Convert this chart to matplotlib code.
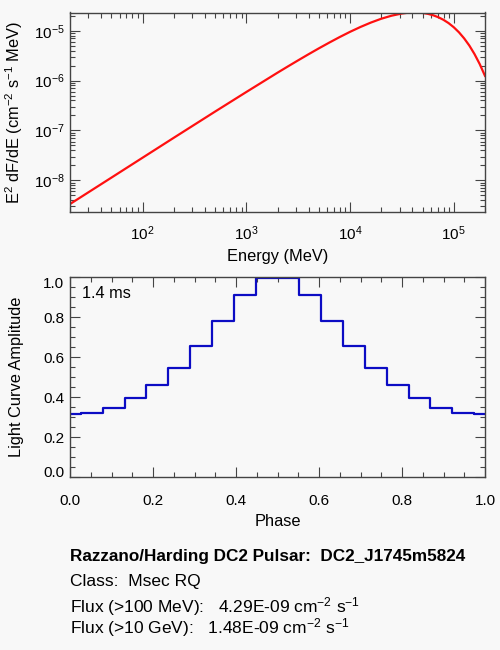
import matplotlib
matplotlib.use("Agg")
import matplotlib.pyplot as plt
import numpy as np
from matplotlib.ticker import LogLocator, MultipleLocator, NullFormatter, FormatStrFormatter

plt.rcParams['font.family'] = ['Liberation Sans', 'DejaVu Sans']
plt.rcParams['mathtext.fontset'] = 'custom'
plt.rcParams['mathtext.rm'] = 'Liberation Sans'
plt.rcParams['mathtext.it'] = 'Liberation Sans'
plt.rcParams['mathtext.bf'] = 'Liberation Sans:bold'
plt.rcParams['mathtext.default'] = 'regular'

# ---- Spectrum (E^2 dF/dE) ----
energy_mev = [20, 50, 100, 200, 500, 1000, 2000, 2512, 3162, 3981, 5012, 6310, 7943,
              1.0e4, 1.259e4, 1.585e4, 1.995e4, 2.512e4, 3.162e4, 3.548e4, 3.981e4,
              4.467e4, 5.012e4, 5.623e4, 6.310e4, 7.079e4, 7.943e4, 8.913e4, 1.0e5,
              1.122e5, 1.259e5, 1.413e5, 1.585e5, 1.778e5, 2.0e5]
e2dfde = [3.35e-9, 1.13e-8, 2.84e-8, 7.13e-8, 2.39e-7, 5.90e-7, 1.44e-6, 1.917e-6,
          2.549e-6, 3.375e-6, 4.437e-6, 5.78e-6, 7.46e-6, 9.50e-6, 1.188e-5, 1.455e-5,
          1.736e-5, 2.001e-5, 2.214e-5, 2.284e-5, 2.319e-5, 2.318e-5, 2.273e-5,
          2.183e-5, 2.047e-5, 1.870e-5, 1.658e-5, 1.422e-5, 1.174e-5, 9.30e-6,
          7.025e-6, 5.04e-6, 3.399e-6, 2.148e-6, 1.243e-6]

# ---- Light curve ----
phase = [0.0, 0.0526, 0.1053, 0.1579, 0.2105, 0.2632, 0.3158, 0.3684, 0.4211, 0.4737,
         0.5263, 0.5789, 0.6316, 0.6842, 0.7368, 0.7895, 0.8421, 0.8947, 0.9474, 1.0]
amplitude = [0.315, 0.320, 0.345, 0.398, 0.460, 0.547, 0.655, 0.782, 0.912, 0.995,
             0.995, 0.912, 0.782, 0.655, 0.547, 0.460, 0.398, 0.345, 0.320, 0.315]

period_label = "1.4 ms"
info_lines = [
    "Razzano/Harding DC2 Pulsar:  DC2_J1745m5824",
    "Class:  Msec RQ",
    "Flux (>100 MeV):   4.29E-09 cm$^{-2}$ s$^{-1}$",
    "Flux (>10 GeV):   1.48E-09 cm$^{-2}$ s$^{-1}$",
]

BG = '#f8f8f8'
SPINE = '#444444'
LABEL_FS = 11.8
TICK_FS = 11
W, H = 500, 650
fig = plt.figure(figsize=(5, 6.5), dpi=100, facecolor=BG)

def ax_rect(l, t, r, b):
    return [l / W, 1 - b / H, (r - l) / W, (b - t) / H]

ax1 = fig.add_axes(ax_rect(70, 12.5, 485, 212), facecolor=BG)
ax2 = fig.add_axes(ax_rect(70, 277.3, 485, 477.3), facecolor=BG)

for ax in (ax1, ax2):
    for s in ax.spines.values():
        s.set_color(SPINE)
        s.set_linewidth(1.0)
    ax.tick_params(which='both', direction='in', top=True, right=True,
                   color=SPINE, labelsize=TICK_FS, labelcolor='black')
    ax.tick_params(which='major', length=7, width=0.8)
    ax.tick_params(which='minor', length=3.5, width=0.8)
    ax.tick_params(axis='y', pad=4)
ax1.tick_params(axis='x', pad=9)
ax2.tick_params(axis='x', pad=12)

# Top panel
ax1.plot(energy_mev, e2dfde, color='#ff1010', lw=1.6)
ax1.set_xscale('log')
ax1.set_yscale('log')
ax1.set_xlim(20, 2.0e5)
ax1.set_ylim(2.32e-9, 2.32e-5)
ax1.xaxis.set_major_locator(LogLocator(base=10, numticks=10))
ax1.xaxis.set_minor_locator(LogLocator(base=10, subs=np.arange(2, 10), numticks=20))
ax1.xaxis.set_minor_formatter(NullFormatter())
ax1.yaxis.set_major_locator(LogLocator(base=10, numticks=10))
ax1.yaxis.set_minor_locator(LogLocator(base=10, subs=np.arange(2, 10), numticks=20))
ax1.yaxis.set_minor_formatter(NullFormatter())
ax1.set_xlabel('Energy (MeV)', fontsize=LABEL_FS, va='center')
ax1.xaxis.set_label_coords(0.5, (212 - 257) / 199.5)
ax1.set_ylabel('E$^2$ dF/dE (cm$^{-2}$ s$^{-1}$ MeV)', fontsize=LABEL_FS, va='center')
ax1.yaxis.set_label_coords((14 - 70) / 415, 0.5)

# Bottom panel
ax2.step(phase, amplitude, where='mid', color='#0c0cc4', lw=1.6)
ax2.set_xlim(0, 1)
ax2.set_ylim(0, 1.0)
ax2.xaxis.set_major_locator(MultipleLocator(0.2))
ax2.xaxis.set_minor_locator(MultipleLocator(0.05))
ax2.yaxis.set_major_locator(MultipleLocator(0.2))
ax2.yaxis.set_minor_locator(MultipleLocator(0.05))
ax2.xaxis.set_major_formatter(FormatStrFormatter('%.1f'))
ax2.yaxis.set_major_formatter(FormatStrFormatter('%.1f'))
ax2.set_xlabel('Phase', fontsize=LABEL_FS, va='center')
ax2.xaxis.set_label_coords(0.5, (477.3 - 521.7) / 200)
ax2.set_ylabel('Light Curve Amplitude', fontsize=LABEL_FS, va='center')
ax2.yaxis.set_label_coords((17 - 70) / 415, 0.5)
ax2.text(12 / 415, 1 - 16 / 200, period_label, transform=ax2.transAxes,
         fontsize=LABEL_FS, va='center', ha='left')

fig.canvas.draw()
for t in ax2.yaxis.get_major_ticks():
    v = t.get_loc()
    if abs(v - 1.0) < 1e-6:
        t.label1.set_va('top')
    elif abs(v) < 1e-6:
        t.label1.set_va('baseline')

# Info text
ys = [556.5, 581.5, 606.5, 627.5]
for i, (line, y) in enumerate(zip(info_lines, ys)):
    fig.text(70 / W, 1 - y / H, line, fontsize=12.3 if i == 0 else 12.5,
             fontweight='bold' if i == 0 else 'normal', va='center', ha='left')

fig.savefig('out.png', dpi=100, facecolor=BG)
